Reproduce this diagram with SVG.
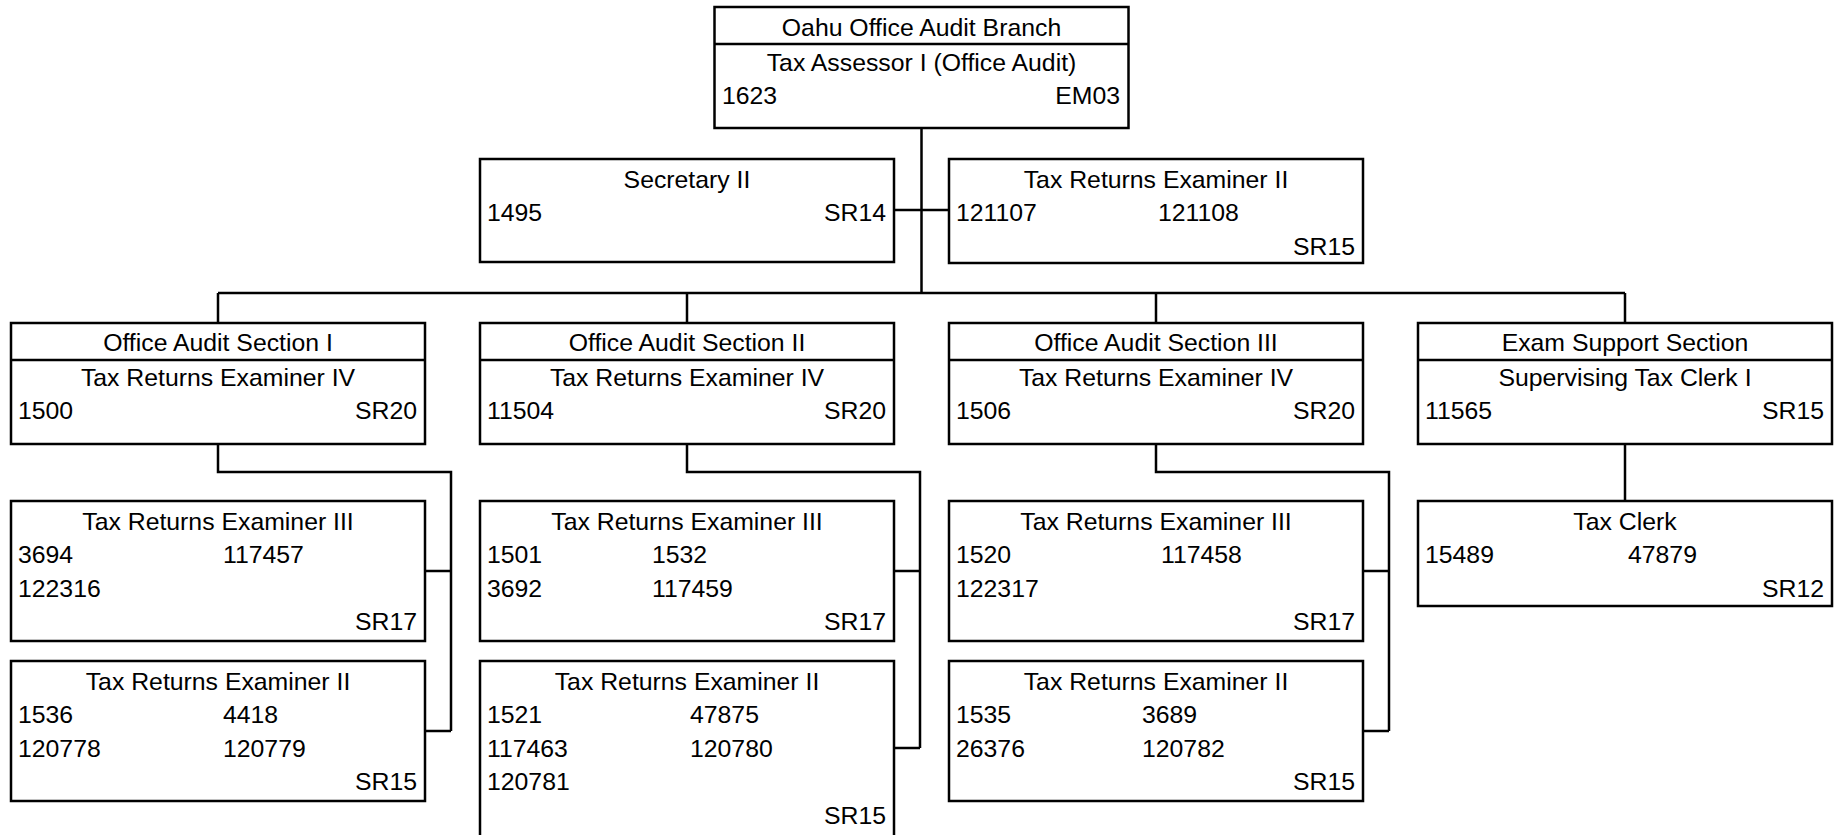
<svg xmlns="http://www.w3.org/2000/svg" width="1845" height="835" viewBox="0 0 1845 835">
<style>
.box{fill:#fff;stroke:#000;stroke-width:2.5}
.ln{fill:none;stroke:#000;stroke-width:2.5}
text{font-family:"Liberation Sans",Arial,sans-serif;font-size:24.8px;fill:#000}
.c{text-anchor:middle}
.r{text-anchor:end}
</style>
<rect width="1845" height="835" fill="#fff"/>
<g id="connectors">
<path class="ln" d="M921.5,128V293M894,210H949M218,293H1625M218,293V323M687,293V323M1156,293V323M1625,293V323"/>
<path class="ln" d="M218,444V472H451V731M425,571H451M425,731H451"/>
<path class="ln" d="M687,444V472H920V748M894,571H920M894,748H920"/>
<path class="ln" d="M1156,444V472H1389V731M1363,571H1389M1363,731H1389"/>
<path class="ln" d="M1625,444V501"/>
</g>
<g id="branch">
<rect class="box" x="714.5" y="7" width="414" height="121"/>
<path class="ln" d="M714.5,44H1128.5"/>
<text class="c" x="921.5" y="35.5">Oahu Office Audit Branch</text>
<text class="c" x="921.5" y="70.5">Tax Assessor I (Office Audit)</text>
<text x="722" y="103.5">1623</text>
<text class="r" x="1120" y="103.5">EM03</text>
</g>
<g id="secretary">
<rect class="box" x="480" y="159" width="414" height="103"/>
<text class="c" x="687" y="188">Secretary II</text>
<text x="487" y="221">1495</text>
<text class="r" x="886" y="221">SR14</text>
</g>
<g id="tre2-branch">
<rect class="box" x="949" y="159" width="414" height="104"/>
<text class="c" x="1156" y="188">Tax Returns Examiner II</text>
<text x="956" y="221">121107</text>
<text x="1158" y="221">121108</text>
<text class="r" x="1355" y="254.5">SR15</text>
</g>
<g id="sec1">
<rect class="box" x="11" y="323" width="414" height="121"/>
<path class="ln" d="M11,360H425"/>
<text class="c" x="218" y="351">Office Audit Section I</text>
<text class="c" x="218" y="385.5">Tax Returns Examiner IV</text>
<text x="18" y="418.5">1500</text>
<text class="r" x="417" y="418.5">SR20</text>
</g>
<g id="sec2">
<rect class="box" x="480" y="323" width="414" height="121"/>
<path class="ln" d="M480,360H894"/>
<text class="c" x="687" y="351">Office Audit Section II</text>
<text class="c" x="687" y="385.5">Tax Returns Examiner IV</text>
<text x="487" y="418.5">11504</text>
<text class="r" x="886" y="418.5">SR20</text>
</g>
<g id="sec3">
<rect class="box" x="949" y="323" width="414" height="121"/>
<path class="ln" d="M949,360H1363"/>
<text class="c" x="1156" y="351">Office Audit Section III</text>
<text class="c" x="1156" y="385.5">Tax Returns Examiner IV</text>
<text x="956" y="418.5">1506</text>
<text class="r" x="1355" y="418.5">SR20</text>
</g>
<g id="exam">
<rect class="box" x="1418" y="323" width="414" height="121"/>
<path class="ln" d="M1418,360H1832"/>
<text class="c" x="1625" y="351">Exam Support Section</text>
<text class="c" x="1625" y="385.5">Supervising Tax Clerk I</text>
<text x="1425" y="418.5">11565</text>
<text class="r" x="1824" y="418.5">SR15</text>
</g>
<g id="sec1-tre3">
<rect class="box" x="11" y="501" width="414" height="140"/>
<text class="c" x="218" y="529.5">Tax Returns Examiner III</text>
<text x="18" y="563">3694</text>
<text x="223" y="563">117457</text>
<text x="18" y="596.5">122316</text>
<text class="r" x="417" y="630">SR17</text>
</g>
<g id="sec1-tre2">
<rect class="box" x="11" y="661" width="414" height="140"/>
<text class="c" x="218" y="689.5">Tax Returns Examiner II</text>
<text x="18" y="723">1536</text>
<text x="223" y="723">4418</text>
<text x="18" y="756.5">120778</text>
<text x="223" y="756.5">120779</text>
<text class="r" x="417" y="790">SR15</text>
</g>
<g id="sec2-tre3">
<rect class="box" x="480" y="501" width="414" height="140"/>
<text class="c" x="687" y="529.5">Tax Returns Examiner III</text>
<text x="487" y="563">1501</text>
<text x="652" y="563">1532</text>
<text x="487" y="596.5">3692</text>
<text x="652" y="596.5">117459</text>
<text class="r" x="886" y="630">SR17</text>
</g>
<g id="sec2-tre2">
<rect class="box" x="480" y="661" width="414" height="176"/>
<text class="c" x="687" y="689.5">Tax Returns Examiner II</text>
<text x="487" y="723">1521</text>
<text x="690" y="723">47875</text>
<text x="487" y="756.5">117463</text>
<text x="690" y="756.5">120780</text>
<text x="487" y="790">120781</text>
<text class="r" x="886" y="824">SR15</text>
</g>
<g id="sec3-tre3">
<rect class="box" x="949" y="501" width="414" height="140"/>
<text class="c" x="1156" y="529.5">Tax Returns Examiner III</text>
<text x="956" y="563">1520</text>
<text x="1161" y="563">117458</text>
<text x="956" y="596.5">122317</text>
<text class="r" x="1355" y="630">SR17</text>
</g>
<g id="sec3-tre2">
<rect class="box" x="949" y="661" width="414" height="140"/>
<text class="c" x="1156" y="689.5">Tax Returns Examiner II</text>
<text x="956" y="723">1535</text>
<text x="1142" y="723">3689</text>
<text x="956" y="756.5">26376</text>
<text x="1142" y="756.5">120782</text>
<text class="r" x="1355" y="790">SR15</text>
</g>
<g id="tax-clerk">
<rect class="box" x="1418" y="501" width="414" height="105"/>
<text class="c" x="1625" y="529.5">Tax Clerk</text>
<text x="1425" y="563">15489</text>
<text x="1628" y="563">47879</text>
<text class="r" x="1824" y="596.5">SR12</text>
</g>
</svg>
